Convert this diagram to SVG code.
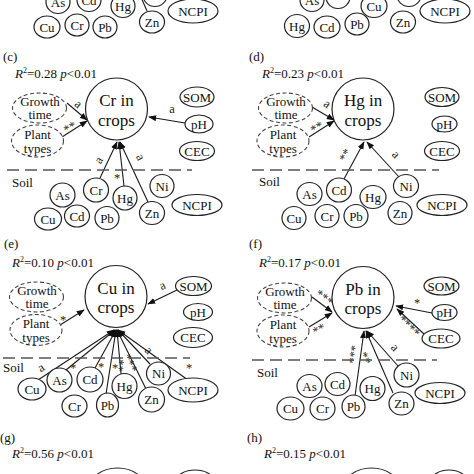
<svg xmlns="http://www.w3.org/2000/svg" width="474" height="474" viewBox="0 0 474 474">
<defs>
<marker id="ah" viewBox="0 0 10 10" refX="9" refY="5" markerWidth="8" markerHeight="8" markerUnits="userSpaceOnUse" orient="auto"><path d="M0,1.2 L10,5 L0,8.8 z" fill="#111"/></marker>
<style>
.n{fill:#fff;stroke:#222;stroke-width:1.2}
.dn{fill:#fff;stroke:#444;stroke-width:1.1;stroke-dasharray:4 2.5}
text{font-family:"Liberation Serif","Times New Roman",serif;fill:#111}
.t{font-size:13px;text-anchor:middle}
.big{font-size:17px;text-anchor:middle}
.lb{font-size:12.5px;text-anchor:middle;fill:#222}
.hd{font-size:13px}
.c{stroke:#1a1a1a;stroke-width:1.1;fill:none}
.ar{stroke:#1a1a1a;stroke-width:1.1;fill:none;marker-end:url(#ah)}
.sep{stroke:#555;stroke-width:1.5;stroke-dasharray:12 6}
</style>
</defs>
<rect width="474" height="474" fill="#fff"/>

<g id="connectors">
<line class="c" x1="140" y1="-5" x2="147" y2="11"/>
<line class="ar" x1="185" y1="123" x2="149" y2="117"/>
<line class="ar" x1="67" y1="103" x2="87" y2="120"/>
<line class="ar" x1="62" y1="137" x2="87" y2="121"/>
<line class="ar" x1="100" y1="178" x2="117" y2="142"/>
<line class="ar" x1="124" y1="186" x2="119" y2="142"/>
<line class="ar" x1="148" y1="202" x2="120" y2="142"/>
<line class="ar" x1="312" y1="107" x2="334" y2="120"/>
<line class="ar" x1="309" y1="137" x2="334" y2="121"/>
<line class="ar" x1="344" y1="179" x2="364" y2="142"/>
<line class="ar" x1="399" y1="177" x2="367" y2="142"/>
<line class="ar" x1="177" y1="290" x2="148" y2="304"/>
<line class="ar" x1="60" y1="325" x2="84" y2="310"/>
<line class="ar" x1="38" y1="380" x2="114" y2="330"/>
<line class="ar" x1="66" y1="370" x2="115" y2="330"/>
<line class="ar" x1="95" y1="368" x2="116" y2="330"/>
<line class="ar" x1="106" y1="394" x2="116" y2="330"/>
<line class="ar" x1="121" y1="374" x2="117" y2="330"/>
<line class="ar" x1="146" y1="389" x2="117" y2="330"/>
<line class="ar" x1="150" y1="364" x2="118" y2="330"/>
<line class="ar" x1="188" y1="380" x2="118" y2="330"/>
<line class="ar" x1="312" y1="297" x2="332" y2="312"/>
<line class="ar" x1="309" y1="327" x2="332" y2="313"/>
<line class="ar" x1="432" y1="313" x2="396" y2="306"/>
<line class="ar" x1="424" y1="334" x2="397" y2="309"/>
<line class="ar" x1="355" y1="396" x2="364" y2="331"/>
<line class="ar" x1="393" y1="393" x2="366" y2="331"/>
<line class="ar" x1="398" y1="366" x2="367" y2="331"/>
</g>

<g id="labels">
<text class="lb" x="172" y="113">a</text>
<text class="lb" transform="translate(76,107) rotate(40)">a</text>
<text class="lb" transform="translate(72,131) rotate(-30)">**</text>
<text class="lb" transform="translate(102,162) rotate(-62)">a</text>
<text class="lb" x="117" y="182">*</text>
<text class="lb" transform="translate(137,159) rotate(64)">a</text>
<text class="lb" transform="translate(325,107) rotate(35)">a</text>
<text class="lb" transform="translate(319,131) rotate(-30)">**</text>
<text class="lb" transform="translate(349,157) rotate(-62)">**</text>
<text class="lb" transform="translate(393,157) rotate(48)">a</text>
<text class="lb" transform="translate(164,289) rotate(-25)">a</text>
<text class="lb" x="63" y="324">*</text>
<text class="lb" transform="translate(43,371) rotate(-33)">a</text>
<text class="lb" x="73" y="372">*</text>
<text class="lb" x="101" y="371">*</text>
<text class="lb" x="115" y="372">*</text>
<text class="lb" transform="translate(127,366) rotate(-85)">**</text>
<text class="lb" transform="translate(137,360) rotate(-115)">***</text>
<text class="lb" transform="translate(146,353) rotate(45)">a</text>
<text class="lb" x="189" y="372">*</text>
<text class="lb" transform="translate(322,301) rotate(38)">***</text>
<text class="lb" transform="translate(321,333) rotate(-28)">**</text>
<text class="lb" x="417" y="307">*</text>
<text class="lb" transform="translate(406,329) rotate(45)">****</text>
<text class="lb" transform="translate(358,355) rotate(-83)">***</text>
<text class="lb" transform="translate(372,355) rotate(-115)">**</text>
<text class="lb" transform="translate(392,350) rotate(48)">a</text>
</g>

<g id="dividers">
<line class="sep" x1="7" y1="170" x2="192" y2="170"/>
<line class="sep" x1="252" y1="170" x2="439" y2="170"/>
<line class="sep" x1="3" y1="358" x2="190" y2="358"/>
<line class="sep" x1="252" y1="360" x2="437" y2="360"/>
</g>

<g id="titles">
<text class="hd" x="3" y="61">(c)</text>
<text class="hd" x="249" y="61">(d)</text>
<text class="hd" x="4" y="248">(e)</text>
<text class="hd" x="249" y="248">(f)</text>
<text class="hd" x="0" y="442">(g)</text>
<text class="hd" x="247" y="442">(h)</text>
<text class="hd" x="15" y="78"><tspan font-style="italic">R</tspan><tspan font-size="8" dy="-5">2</tspan><tspan dy="5">=0.28 </tspan><tspan font-style="italic">p</tspan>&lt;0.01</text>
<text class="hd" x="262" y="78"><tspan font-style="italic">R</tspan><tspan font-size="8" dy="-5">2</tspan><tspan dy="5">=0.23 </tspan><tspan font-style="italic">p</tspan>&lt;0.01</text>
<text class="hd" x="12" y="267"><tspan font-style="italic">R</tspan><tspan font-size="8" dy="-5">2</tspan><tspan dy="5">=0.10 </tspan><tspan font-style="italic">p</tspan>&lt;0.01</text>
<text class="hd" x="259" y="267"><tspan font-style="italic">R</tspan><tspan font-size="8" dy="-5">2</tspan><tspan dy="5">=0.17 </tspan><tspan font-style="italic">p</tspan>&lt;0.01</text>
<text class="hd" x="12" y="458"><tspan font-style="italic">R</tspan><tspan font-size="8" dy="-5">2</tspan><tspan dy="5">=0.56 </tspan><tspan font-style="italic">p</tspan>&lt;0.01</text>
<text class="hd" x="264" y="458"><tspan font-style="italic">R</tspan><tspan font-size="8" dy="-5">2</tspan><tspan dy="5">=0.15 </tspan><tspan font-style="italic">p</tspan>&lt;0.01</text>
<text class="hd" x="12" y="187">Soil</text>
<text class="hd" x="259" y="186">Soil</text>
<text class="hd" x="3" y="372">Soil</text>
<text class="hd" x="257" y="377">Soil</text>
</g>

<g id="a-As"><ellipse class="n" cx="58" cy="2" rx="12" ry="11.5"/><text class="t" x="58" y="6.5">As</text></g>
<g id="a-Cd"><ellipse class="n" cx="89" cy="0" rx="12" ry="11.5"/><text class="t" x="89" y="4.5">Cd</text></g>
<g id="a-Hg"><ellipse class="n" cx="123" cy="6" rx="12" ry="11.5"/><text class="t" x="123" y="10.5">Hg</text></g>
<g id="a-Ni"><ellipse class="n" cx="155" cy="-5" rx="12" ry="11.5"/></g>
<g id="a-NCPI"><ellipse class="n" cx="193" cy="11" rx="25" ry="12"/><text class="t" x="193" y="15.5">NCPI</text></g>
<g id="a-Cu"><ellipse class="n" cx="47" cy="27" rx="13" ry="11"/><text class="t" x="47" y="31.5">Cu</text></g>
<g id="a-Cr"><ellipse class="n" cx="77" cy="25" rx="12" ry="11"/><text class="t" x="77" y="29.5">Cr</text></g>
<g id="a-Pb"><ellipse class="n" cx="105" cy="27" rx="12" ry="11"/><text class="t" x="105" y="31.5">Pb</text></g>
<g id="a-Zn"><ellipse class="n" cx="152" cy="22" rx="12.5" ry="11"/><text class="t" x="152" y="26.5">Zn</text></g>

<g id="b-As"><ellipse class="n" cx="312" cy="0" rx="12" ry="11.5"/><text class="t" x="312" y="4.5">As</text></g>
<g id="b-Cr"><ellipse class="n" cx="338" cy="-3" rx="12" ry="11.5"/></g>
<g id="b-Cu"><ellipse class="n" cx="374" cy="6" rx="13" ry="11.5"/><text class="t" x="374" y="10.5">Cu</text></g>
<g id="b-Ni"><ellipse class="n" cx="409" cy="-5" rx="12" ry="11.5"/></g>
<g id="b-NCPI"><ellipse class="n" cx="445" cy="11" rx="25" ry="12"/><text class="t" x="445" y="15.5">NCPI</text></g>
<g id="b-Hg"><ellipse class="n" cx="297" cy="26" rx="12.5" ry="11.5"/><text class="t" x="297" y="30.5">Hg</text></g>
<g id="b-Cd"><ellipse class="n" cx="327" cy="27" rx="13" ry="11"/><text class="t" x="327" y="31.5">Cd</text></g>
<g id="b-Pb"><ellipse class="n" cx="357" cy="24" rx="12" ry="11"/><text class="t" x="357" y="28.5">Pb</text></g>
<g id="b-Zn"><ellipse class="n" cx="403" cy="22" rx="12.5" ry="11"/><text class="t" x="403" y="26.5">Zn</text></g>

<g id="c-growth"><ellipse class="dn" cx="39.5" cy="108" rx="27" ry="15"/><text class="t" x="40" y="105.5">Growth</text><text class="t" x="40" y="119">time</text></g>
<g id="c-plant"><ellipse class="dn" cx="37.5" cy="141" rx="26" ry="16"/><text class="t" x="37.5" y="139">Plant</text><text class="t" x="37.5" y="152.5">types</text></g>
<g id="c-crop"><circle class="n" cx="116.5" cy="109" r="31"/><text class="big" x="116.5" y="106">Cr in</text><text class="big" x="116.5" y="125.5">crops</text></g>
<g id="c-SOM"><ellipse class="n" cx="197" cy="97" rx="17" ry="10"/><text class="t" x="197" y="101.5">SOM</text></g>
<g id="c-pH"><ellipse class="n" cx="199" cy="124" rx="14" ry="9"/><text class="t" x="199" y="128.5">pH</text></g>
<g id="c-CEC"><ellipse class="n" cx="197" cy="151" rx="17.5" ry="9.5"/><text class="t" x="197" y="155.5">CEC</text></g>
<g id="c-As"><ellipse class="n" cx="62.5" cy="195" rx="12.5" ry="12"/><text class="t" x="62.5" y="199.5">As</text></g>
<g id="c-Cr"><ellipse class="n" cx="96" cy="190" rx="12.5" ry="12"/><text class="t" x="96" y="194.5">Cr</text></g>
<g id="c-Hg"><ellipse class="n" cx="125" cy="198" rx="12" ry="12"/><text class="t" x="125" y="202.5">Hg</text></g>
<g id="c-Ni"><ellipse class="n" cx="162" cy="186" rx="12" ry="11.5"/><text class="t" x="162" y="190.5">Ni</text></g>
<g id="c-NCPI"><ellipse class="n" cx="197" cy="205" rx="25" ry="10.5"/><text class="t" x="197" y="209.5">NCPI</text></g>
<g id="c-Cu"><ellipse class="n" cx="48" cy="219" rx="13.5" ry="11"/><text class="t" x="48" y="223.5">Cu</text></g>
<g id="c-Cd"><ellipse class="n" cx="77" cy="216" rx="12.5" ry="11"/><text class="t" x="77" y="220.5">Cd</text></g>
<g id="c-Pb"><ellipse class="n" cx="107" cy="218" rx="12" ry="11.5"/><text class="t" x="107" y="222.5">Pb</text></g>
<g id="c-Zn"><ellipse class="n" cx="152" cy="213" rx="12.5" ry="11.5"/><text class="t" x="152" y="217.5">Zn</text></g>

<g id="d-growth"><ellipse class="dn" cx="285.5" cy="108" rx="27" ry="15"/><text class="t" x="286" y="105.5">Growth</text><text class="t" x="286" y="119">time</text></g>
<g id="d-plant"><ellipse class="dn" cx="283" cy="141" rx="26" ry="16"/><text class="t" x="283" y="139">Plant</text><text class="t" x="283" y="152.5">types</text></g>
<g id="d-crop"><circle class="n" cx="363" cy="109" r="31"/><text class="big" x="363" y="106">Hg in</text><text class="big" x="363" y="125.5">crops</text></g>
<g id="d-SOM"><ellipse class="n" cx="442" cy="97" rx="17" ry="9.5"/><text class="t" x="442" y="101.5">SOM</text></g>
<g id="d-pH"><ellipse class="n" cx="444.5" cy="124" rx="12.5" ry="8"/><text class="t" x="444.5" y="128.5">pH</text></g>
<g id="d-CEC"><ellipse class="n" cx="442" cy="151" rx="17.5" ry="9.5"/><text class="t" x="442" y="155.5">CEC</text></g>
<g id="d-As"><ellipse class="n" cx="309.5" cy="194" rx="12.5" ry="11.5"/><text class="t" x="309.5" y="198.5">As</text></g>
<g id="d-Cd"><ellipse class="n" cx="339" cy="190" rx="12.5" ry="12"/><text class="t" x="339" y="194.5">Cd</text></g>
<g id="d-Hg"><ellipse class="n" cx="373" cy="197" rx="13" ry="11.5"/><text class="t" x="373" y="201.5">Hg</text></g>
<g id="d-Ni"><ellipse class="n" cx="406" cy="186" rx="12.5" ry="11.5"/><text class="t" x="406" y="190.5">Ni</text></g>
<g id="d-NCPI"><ellipse class="n" cx="442" cy="205" rx="25" ry="10.5"/><text class="t" x="442" y="209.5">NCPI</text></g>
<g id="d-Cu"><ellipse class="n" cx="294" cy="218" rx="12" ry="11.5"/><text class="t" x="294" y="222.5">Cu</text></g>
<g id="d-Cr"><ellipse class="n" cx="327" cy="216" rx="12" ry="11.5"/><text class="t" x="327" y="220.5">Cr</text></g>
<g id="d-Pb"><ellipse class="n" cx="356" cy="216" rx="12" ry="11.5"/><text class="t" x="356" y="220.5">Pb</text></g>
<g id="d-Zn"><ellipse class="n" cx="400" cy="213" rx="12" ry="11.5"/><text class="t" x="400" y="217.5">Zn</text></g>

<g id="e-growth"><ellipse class="dn" cx="36.5" cy="297" rx="27" ry="15"/><text class="t" x="37" y="294.5">Growth</text><text class="t" x="37" y="308">time</text></g>
<g id="e-plant"><ellipse class="dn" cx="36" cy="330" rx="26" ry="15.5"/><text class="t" x="36" y="328">Plant</text><text class="t" x="36" y="341.5">types</text></g>
<g id="e-crop"><circle class="n" cx="116" cy="296.5" r="31"/><text class="big" x="116" y="293.5">Cu in</text><text class="big" x="116" y="313">crops</text></g>
<g id="e-SOM"><ellipse class="n" cx="193.5" cy="286" rx="18" ry="9.5"/><text class="t" x="193.5" y="290.5">SOM</text></g>
<g id="e-pH"><ellipse class="n" cx="198" cy="312" rx="14.5" ry="8.5"/><text class="t" x="198" y="316.5">pH</text></g>
<g id="e-CEC"><ellipse class="n" cx="193" cy="337.5" rx="19.5" ry="10"/><text class="t" x="193" y="342">CEC</text></g>
<g id="e-Cu"><ellipse class="n" cx="32" cy="389" rx="14" ry="11"/><text class="t" x="32" y="393.5">Cu</text></g>
<g id="e-As"><ellipse class="n" cx="59.5" cy="380" rx="12.5" ry="12"/><text class="t" x="59.5" y="384.5">As</text></g>
<g id="e-Cd"><ellipse class="n" cx="90" cy="379.5" rx="13" ry="12.5"/><text class="t" x="90" y="384">Cd</text></g>
<g id="e-Hg"><ellipse class="n" cx="124.5" cy="386" rx="12.5" ry="12.5"/><text class="t" x="124.5" y="390.5">Hg</text></g>
<g id="e-Ni"><ellipse class="n" cx="158.5" cy="373.5" rx="12" ry="11.5"/><text class="t" x="158.5" y="378">Ni</text></g>
<g id="e-NCPI"><ellipse class="n" cx="193" cy="390" rx="25" ry="12"/><text class="t" x="193" y="394.5">NCPI</text></g>
<g id="e-Cr"><ellipse class="n" cx="74.5" cy="406" rx="12.5" ry="11"/><text class="t" x="74.5" y="410.5">Cr</text></g>
<g id="e-Pb"><ellipse class="n" cx="107.5" cy="405" rx="11" ry="12"/><text class="t" x="107.5" y="409.5">Pb</text></g>
<g id="e-Zn"><ellipse class="n" cx="151.5" cy="399.5" rx="13" ry="12.5"/><text class="t" x="151.5" y="404">Zn</text></g>

<g id="f-growth"><ellipse class="dn" cx="284.5" cy="298" rx="27" ry="15"/><text class="t" x="285" y="295.5">Growth</text><text class="t" x="285" y="309">time</text></g>
<g id="f-plant"><ellipse class="dn" cx="283" cy="331" rx="26" ry="16"/><text class="t" x="283" y="329">Plant</text><text class="t" x="283" y="342.5">types</text></g>
<g id="f-crop"><circle class="n" cx="363" cy="297.5" r="31"/><text class="big" x="363" y="294.5">Pb in</text><text class="big" x="363" y="314">crops</text></g>
<g id="f-SOM"><ellipse class="n" cx="441.5" cy="286" rx="17.5" ry="9"/><text class="t" x="441.5" y="290.5">SOM</text></g>
<g id="f-pH"><ellipse class="n" cx="444.5" cy="312.5" rx="12.5" ry="8"/><text class="t" x="444.5" y="317">pH</text></g>
<g id="f-CEC"><ellipse class="n" cx="441" cy="338.5" rx="19" ry="9.5"/><text class="t" x="441" y="343">CEC</text></g>
<g id="f-As"><ellipse class="n" cx="309.5" cy="386" rx="12.5" ry="11.5"/><text class="t" x="309.5" y="390.5">As</text></g>
<g id="f-Cd"><ellipse class="n" cx="337.5" cy="384" rx="12.5" ry="11.5"/><text class="t" x="337.5" y="388.5">Cd</text></g>
<g id="f-Hg"><ellipse class="n" cx="372.5" cy="388.5" rx="12.5" ry="12"/><text class="t" x="372.5" y="393">Hg</text></g>
<g id="f-Ni"><ellipse class="n" cx="406.5" cy="375" rx="12.5" ry="12"/><text class="t" x="406.5" y="379.5">Ni</text></g>
<g id="f-NCPI"><ellipse class="n" cx="440" cy="393" rx="25" ry="10.5"/><text class="t" x="440" y="397.5">NCPI</text></g>
<g id="f-Cu"><ellipse class="n" cx="290.5" cy="408.5" rx="13.5" ry="11.5"/><text class="t" x="290.5" y="413">Cu</text></g>
<g id="f-Cr"><ellipse class="n" cx="322.5" cy="408.5" rx="12.5" ry="11.5"/><text class="t" x="322.5" y="413">Cr</text></g>
<g id="f-Pb"><ellipse class="n" cx="353.5" cy="406.5" rx="11.5" ry="11.5"/><text class="t" x="353.5" y="411">Pb</text></g>
<g id="f-Zn"><ellipse class="n" cx="401.5" cy="403.5" rx="12.5" ry="11.5"/><text class="t" x="401.5" y="408">Zn</text></g>

<g id="g-crop"><ellipse class="n" cx="117.5" cy="490" rx="29" ry="22"/></g>
<g id="g-SOM"><ellipse class="n" cx="195" cy="480" rx="18" ry="10"/></g>
<g id="h-crop"><ellipse class="n" cx="371.5" cy="490" rx="29" ry="22"/></g>
<g id="h-SOM"><ellipse class="n" cx="449" cy="480" rx="17" ry="10"/></g>
</svg>
